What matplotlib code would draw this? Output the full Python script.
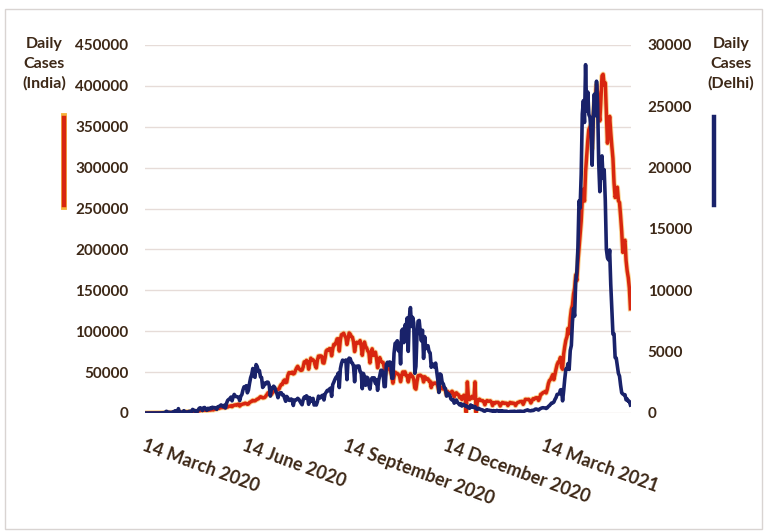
import matplotlib
matplotlib.use("Agg")
import matplotlib.pyplot as plt
from matplotlib.lines import Line2D
from matplotlib.patches import Rectangle
import pandas as pd

# ---------------- data ----------------
start_date = "2020-03-14"
end_date = "2021-05-31"

india_daily = (
    # Mar 14-31 2020
    [10, 20, 15, 11, 25, 28, 58, 78, 69, 94, 74, 86, 73, 153, 136, 120, 187, 309]
    # Apr 2020
    + [424, 486, 560, 579, 609, 484, 573, 565, 813, 871, 854, 758, 1243, 1031, 886, 1061, 922, 1371, 1580, 1239,
       1537, 1292, 1667, 1408, 1835, 1607, 1568, 1902, 1705, 1801]
    # May 2020
    + [2396, 2564, 2952, 3656, 2971, 3602, 3344, 3339, 3175, 4311, 3592, 3562, 3726, 3991, 3808, 4794, 5049, 4628,
       6147, 5553, 6198, 6568, 6629, 7113, 6414, 6535, 7246, 7254, 8138, 8364, 8789]
    # Jun 2020
    + [7723, 8812, 9689, 9849, 9472, 10408, 10882, 8442, 10218, 10459, 11090, 11157, 12023, 11502, 10667, 10974,
       12881, 13586, 14516, 15413, 14821, 14933, 15968, 16922, 17296, 18552, 19906, 19459, 18522, 18653]
    # Jul 2020
    + [19148, 20903, 22771, 24850, 24248, 22252, 22752, 24879, 26506, 27114, 28637, 28701, 28498, 29429, 32695,
       34956, 34884, 38902, 40425, 37148, 37724, 45720, 49310, 48916, 48661, 49931, 47704, 48513, 52123, 55079, 57118]
    # Aug 2020
    + [54736, 52972, 52050, 52509, 56282, 62538, 61537, 64399, 62064, 53601, 60963, 66999, 64553, 65002, 63490,
       57981, 55079, 64531, 69652, 68898, 69878, 69239, 61408, 60975, 67151, 75760, 77266, 76472, 78761, 78512, 69921]
    # Sep 2020
    + [78357, 83883, 83341, 86432, 90632, 90802, 75809, 89706, 95735, 96551, 97570, 94372, 92071, 83809, 90123,
       97894, 96424, 93337, 92605, 86961, 75083, 83347, 86508, 86052, 85362, 88600, 82170, 70589, 80472, 86821]
    # Oct 2020
    + [81484, 79476, 75829, 74442, 61267, 72049, 78524, 70496, 73272, 74383, 66732, 55342, 63509, 67708, 63371,
       62212, 61871, 55722, 46790, 54044, 55839, 54366, 53370, 50129, 45149, 36469, 43893, 49881, 48648, 48268, 46964]
    # Nov 2020
    + [45231, 38310, 46254, 50210, 47638, 50356, 45674, 45903, 38073, 44281, 47905, 44879, 44684, 41100, 30548,
       29164, 38617, 45576, 45882, 46232, 45209, 44059, 37975, 44376, 43082, 41322, 41810, 39036, 38772, 31118]
    # Dec 2020
    + [36604, 35551, 36595, 36652, 36011, 32981, 26567, 32080, 31522, 29398, 30006, 30254, 27071, 22065, 26382,
       24010, 22890, 25152, 26624, 24337, 19556, 23950, 24712, 23067, 22272, 18732, 20021, 16432, 20549, 21822, 20035]
    # Jan 2021
    + [500, 38000, 18177, 16504, 18088, 20346, 18139, 18222, 38000, 500, 12584, 15968, 16946, 15590, 15158,
       15144, 13788, 10064, 13823, 15223, 14545, 14256, 14849, 13203, 9102, 12689, 11666, 13083, 12900, 13052, 11900]
    # Feb 2021
    + [8635, 11039, 12899, 12408, 11713, 12059, 11831, 9110, 11067, 12923, 12408, 11713, 12194, 11649, 9121,
       11610, 12881, 13193, 13993, 13993, 14264, 10584, 13742, 16738, 16577, 16488, 16752, 15510]
    # Mar 2021
    + [12286, 14989, 17407, 16838, 18327, 18711, 18599, 15388, 17921, 22854, 23285, 24882, 25320, 26291, 24492,
       28903, 35871, 39726, 40953, 43846, 46951, 40715, 47262, 53476, 59118, 62258, 62714, 68020, 56211, 53480, 72330]
    # Apr 2021
    + [81466, 89129, 93249, 103558, 96982, 115736, 126789, 131968, 145384, 152879, 168912, 161736, 184372, 200739,
       217353, 234692, 261500, 273810, 259170, 295041, 314835, 332730, 346786, 349691, 352991, 323144, 360960,
       379257, 386452, 401993]
    # May 2021
    + [392488, 368147, 357229, 382315, 412262, 414188, 401078, 403738, 366161, 329942, 348421, 362727, 343144,
       326098, 311170, 281386, 263533, 267334, 276110, 259551, 257299, 240842, 222315, 196427, 208921, 211298,
       186364, 173790, 165553, 152734, 127510]
)

delhi_daily = (
    # Mar 14-31 2020
    [0, 0, 0, 1, 2, 2, 5, 9, 2, 1, 1, 5, 3, 3, 10, 23, 25, 23]
    # Apr 2020
    + [32, 141, 93, 59, 58, 20, 51, 93, 93, 183, 166, 85, 356, 51, 17, 62, 67, 186, 110, 78, 75, 92, 138, 111, 111,
       293, 190, 206, 125, 76]
    # May 2020
    + [223, 384, 427, 349, 206, 428, 448, 338, 224, 381, 310, 406, 359, 472, 425, 438, 422, 299, 500, 534, 571,
       660, 591, 508, 635, 412, 792, 1024, 1106, 1163, 1295]
    # Jun 2020
    + [990, 1298, 1513, 1359, 1330, 1320, 1282, 1007, 1366, 1501, 1877, 2137, 2134, 2224, 1647, 1859, 2414, 2877,
       3137, 3630, 3000, 2909, 3947, 3788, 3390, 3460, 2948, 2889, 2084, 2199]
    # Jul 2020
    + [2442, 2373, 2520, 2505, 2244, 1379, 2008, 2033, 2187, 2089, 1781, 1573, 1246, 1606, 1647, 1652, 1462, 1475,
       1211, 954, 1349, 1227, 1041, 1025, 1142, 1075, 613, 1056, 1035, 1093, 1195]
    # Aug 2020
    + [1118, 961, 805, 674, 1076, 1299, 1192, 1404, 1300, 707, 1257, 1113, 956, 1192, 652, 787, 652, 917, 1374,
       1215, 1250, 1412, 1450, 1061, 1544, 1693, 1840, 1808, 1954, 2024, 1358]
    # Sep 2020
    + [2312, 2509, 2737, 2914, 2973, 3256, 2077, 3609, 4039, 4308, 4266, 4235, 4321, 2718, 4263, 4473, 4432, 4127,
       4071, 3812, 2548, 3816, 3714, 3834, 3827, 3372, 3292, 1984, 3227, 2920]
    # Oct 2020
    + [2258, 2920, 2860, 2258, 1947, 2676, 2871, 2726, 2866, 2404, 2714, 1849, 2675, 3036, 3483, 3476, 3259, 2154,
       2154, 3952, 4136, 3882, 4161, 4116, 2832, 2832, 4853, 5673, 5739, 5891, 5062]
    # Nov 2020
    + [5664, 4001, 6725, 6842, 5739, 7178, 6953, 7745, 5023, 7830, 8593, 7053, 7802, 7340, 3235, 3797, 6396, 7486,
       7546, 6608, 5879, 6746, 4454, 6224, 5246, 5475, 5482, 4998, 4906, 3726]
    # Dec 2020
    + [4006, 3944, 3734, 4067, 3419, 2706, 1674, 3188, 3113, 2463, 2385, 2056, 1984, 1376, 1617, 1547, 1418, 1139,
       1063, 1091, 803, 939, 1063, 871, 758, 655, 757, 564, 703, 677, 574]
    # Jan 2021
    + [585, 494, 424, 384, 654, 486, 574, 444, 519, 357, 306, 386, 340, 295, 265, 246, 161, 148, 228, 264, 227,
       223, 185, 197, 143, 199, 96, 158, 211, 166, 116]
    # Feb 2021
    + [176, 134, 183, 146, 109, 152, 141, 94, 100, 123, 126, 130, 132, 145, 115, 94, 145, 134, 151, 145, 128, 128,
       145, 200, 220, 256, 197, 185]
    # Mar 2021
    + [175, 217, 200, 240, 312, 321, 286, 239, 320, 370, 409, 431, 419, 407, 368, 425, 536, 607, 716, 813, 823,
       888, 1101, 1254, 1515, 1534, 1558, 1881, 1904, 992, 1819]
    # Apr 2021
    + [2790, 3583, 3567, 4033, 3548, 5100, 5506, 7437, 8521, 7897, 10774, 11491, 13468, 17282, 16699, 19486, 24375,
       25462, 23686, 28395, 24638, 26169, 24331, 24103, 22933, 20201, 24149, 25986, 24235, 27047]
    # May 2021
    + [25219, 20394, 18043, 19953, 20960, 19133, 19832, 17364, 13336, 12651, 12481, 13287, 10489, 8506, 6430, 6456,
       4524, 4482, 3846, 3231, 3009, 2260, 1649, 1550, 1491, 1491, 1072, 1141, 956, 946, 648]
)

tick_dates = ["2020-03-14", "2020-06-14", "2020-09-14", "2020-12-14", "2021-03-14"]
tick_labels = ["14 March 2020", "14 June 2020", "14 September 2020", "14 December 2020", "14 March 2021"]
india_ticks = list(range(0, 450001, 50000))
delhi_ticks = list(range(0, 30001, 5000))

# ---------------- plot ----------------
dates = pd.date_range(start_date, end_date, freq="D")
TXT = "#3d2817"
RED = "#d8260f"
BLUE = "#19226a"
FONT = ["Lato", "DejaVu Sans"]
plt.rcParams["font.family"] = FONT

W, H = 764, 531
fig = plt.figure(figsize=(W / 100, H / 100), dpi=100)
fig.patch.set_facecolor("white")

x0, x1 = 145, 631
ytop, ybot = 45, 413
ax = fig.add_axes([x0 / W, (H - ybot) / H, (x1 - x0) / W, (ybot - ytop) / H])
ax2 = ax.twinx()

ax.plot(dates, india_daily, color="#f6b13a", lw=3.8, alpha=0.55, solid_joinstyle="round", zorder=2)
ax.plot(dates, india_daily, color=RED, lw=2.5, solid_joinstyle="round", zorder=3)
ax2.plot(dates, delhi_daily, color=BLUE, lw=2.6, solid_joinstyle="round", zorder=3)

ax.set_ylim(0, 450000)
ax2.set_ylim(0, 30000)
ax.set_xlim(dates[0] - pd.Timedelta(hours=12), dates[-1] + pd.Timedelta(hours=12))

ax.set_yticks(india_ticks)
ax.set_yticklabels([str(v) for v in india_ticks])
ax2.set_yticks(delhi_ticks)
ax2.set_yticklabels([str(v) for v in delhi_ticks])
ax.grid(axis="y", color="#e6dcd8", lw=1.0, zorder=0)
ax.set_axisbelow(True)

for a in (ax, ax2):
    for s in a.spines.values():
        s.set_visible(False)
    a.tick_params(length=0, colors=TXT)

ax.tick_params(axis="y", pad=12, labelsize=11)
ax2.tick_params(axis="y", pad=12, labelsize=11)
for lab in ax.get_yticklabels() + ax2.get_yticklabels():
    lab.set_fontweight("bold")
    lab.set_color(TXT)

ax.set_xticks(pd.to_datetime(tick_dates))
ax.set_xticklabels(tick_labels)
ax.tick_params(axis="x", pad=17, labelsize=13)
for lab in ax.get_xticklabels():
    lab.set_rotation(-20)
    lab.set_rotation_mode("anchor")
    lab.set_ha("left")
    lab.set_va("top")
    lab.set_fontweight("bold")
    lab.set_color(TXT)

# side labels with colour keys
fig.text(44 / W, 1 - 37 / H, "Daily\nCases\n(India)", ha="center", va="top", fontsize=11.5,
         fontweight="bold", color=TXT, linespacing=1.5)
fig.text(731 / W, 1 - 37 / H, "Daily\nCases\n(Delhi)", ha="center", va="top", fontsize=11.5,
         fontweight="bold", color=TXT, linespacing=1.5)
fig.add_artist(Line2D([64 / W, 64 / W], [1 - 116 / H, 1 - 207 / H], color="#f6b13a", lw=4.2,
                      transform=fig.transFigure))
fig.add_artist(Line2D([64 / W, 64 / W], [1 - 118 / H, 1 - 205 / H], color=RED, lw=3.2,
                      transform=fig.transFigure))
fig.add_artist(Line2D([714 / W, 714 / W], [1 - 117 / H, 1 - 205 / H], color=BLUE, lw=3.2,
                      transform=fig.transFigure))

# outer frame
fig.add_artist(Rectangle((5 / W, 2 / H), (W - 7) / W, (H - 11) / H, transform=fig.transFigure,
                         fill=False, edgecolor="#d9d4d2", lw=1.0))

fig.savefig("out.png", dpi=100)
